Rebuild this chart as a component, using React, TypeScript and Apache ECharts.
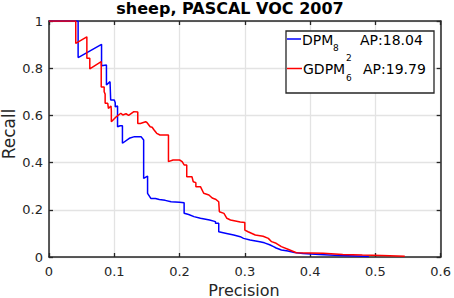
import React, { useEffect, useRef } from "react";
import * as echarts from "echarts";

const titleText = "sheep, PASCAL VOC 2007";
const xLabel = "Precision";
const yLabel = "Recall";
const xTicks = [0, 0.1, 0.2, 0.3, 0.4, 0.5, 0.6];
const yTicks = [0, 0.2, 0.4, 0.6, 0.8, 1];

const dpmName = "DPM";
const dpmSub = "8";
const dpmAP = "AP:18.04";
const gdpmName = "GDPM";
const gdpmSup = "2";
const gdpmSub = "6";
const gdpmAP = "AP:19.79";

// [precision, recall]
const dpmCurve: number[][] = [
  [0, 1], [0.0446, 1], [0.0446, 0.845], [0.0805, 0.901], [0.0805, 0.81],
  [0.088, 0.814], [0.088, 0.729], [0.0935, 0.743], [0.0945, 0.665], [0.1, 0.665],
  [0.1015, 0.654], [0.1015, 0.637], [0.105, 0.64], [0.105, 0.552], [0.109, 0.556],
  [0.1125, 0.556], [0.1125, 0.482], [0.123, 0.503], [0.131, 0.51], [0.141, 0.51],
  [0.145, 0.496], [0.145, 0.333], [0.151, 0.343], [0.151, 0.27], [0.156, 0.248],
  [0.163, 0.248], [0.169, 0.244], [0.178, 0.24], [0.187, 0.234], [0.2, 0.232],
  [0.207, 0.23], [0.207, 0.185], [0.214, 0.18], [0.222, 0.171], [0.232, 0.164],
  [0.246, 0.157], [0.255, 0.15], [0.255, 0.143], [0.26, 0.143], [0.26, 0.107],
  [0.272, 0.1], [0.283, 0.093], [0.293, 0.086], [0.298, 0.079], [0.308, 0.072],
  [0.323, 0.065], [0.33, 0.06], [0.338, 0.052], [0.344, 0.044], [0.348, 0.038],
  [0.356, 0.03], [0.366, 0.025], [0.376, 0.019], [0.389, 0.015], [0.414, 0.011],
  [0.445, 0.006], [0.47, 0.004], [0.49, 0.002],
];

const gdpmCurve: number[][] = [
  [0, 1], [0.041, 1], [0.041, 0.905], [0.058, 0.933], [0.058, 0.842],
  [0.0625, 0.842], [0.0625, 0.797], [0.08, 0.828], [0.08, 0.72], [0.0845, 0.72],
  [0.0845, 0.7], [0.086, 0.69], [0.086, 0.651], [0.09, 0.651], [0.091, 0.63],
  [0.095, 0.64], [0.0955, 0.62], [0.0955, 0.573], [0.103, 0.594], [0.11, 0.609],
  [0.113, 0.602], [0.118, 0.607], [0.122, 0.6], [0.13, 0.616], [0.136, 0.614],
  [0.136, 0.566], [0.14, 0.566], [0.148, 0.573], [0.15, 0.57], [0.155, 0.552],
  [0.158, 0.55], [0.161, 0.538], [0.165, 0.524], [0.17, 0.517], [0.183, 0.517],
  [0.183, 0.404], [0.19, 0.411], [0.2, 0.411], [0.204, 0.404], [0.207, 0.39],
  [0.211, 0.39], [0.211, 0.34], [0.219, 0.34], [0.221, 0.319], [0.225, 0.315],
  [0.225, 0.298], [0.232, 0.298], [0.237, 0.27], [0.245, 0.263], [0.25, 0.25],
  [0.255, 0.245], [0.26, 0.234], [0.261, 0.192], [0.268, 0.185], [0.2725, 0.164],
  [0.278, 0.157], [0.293, 0.148], [0.3, 0.146], [0.3, 0.114], [0.305, 0.107],
  [0.316, 0.093], [0.328, 0.088], [0.336, 0.079], [0.341, 0.065], [0.348, 0.058],
  [0.356, 0.044], [0.366, 0.033], [0.379, 0.018], [0.42, 0.016], [0.45, 0.011],
  [0.48, 0.008], [0.51, 0.006], [0.545, 0.003],
];

const FONT = "DejaVu Sans";
const AXIS_COLOR = "#262626";
const GRID_COLOR = "#e3e3e3";

export default function App() {
  const ref = useRef<HTMLDivElement>(null);

  useEffect(() => {
    if (!ref.current) return;
    const chart = echarts.init(ref.current, undefined, { renderer: "svg" });
    const fmt = (v: number) => String(Math.round(v * 10) / 10);
    const axisLine = { show: true, onZero: false, lineStyle: { color: AXIS_COLOR, width: 1.5 } };
    const axisTick = { show: true, inside: true, length: 4, lineStyle: { color: AXIS_COLOR, width: 1.3 } };
    const xMin = xTicks[0], xMax = xTicks[xTicks.length - 1];
    const yMin = yTicks[0], yMax = yTicks[yTicks.length - 1];

    chart.setOption({
      animation: false,
      backgroundColor: "#ffffff",
      grid: { left: 49, right: 10, top: 21, bottom: 41, containLabel: false },
      xAxis: [
        {
          type: "value", min: xMin, max: xMax, interval: 0.1, position: "bottom",
          axisLine, axisTick,
          axisLabel: { color: AXIS_COLOR, fontSize: 13, fontFamily: FONT, margin: 8, formatter: fmt },
          splitLine: { show: true, lineStyle: { color: GRID_COLOR, width: 1.3 } },
        },
        {
          type: "value", min: xMin, max: xMax, interval: 0.1, position: "top",
          axisLine, axisTick, axisLabel: { show: false }, splitLine: { show: false },
        },
      ],
      yAxis: [
        {
          type: "value", min: yMin, max: yMax, interval: 0.2, position: "left",
          axisLine, axisTick,
          axisLabel: { color: AXIS_COLOR, fontSize: 13, fontFamily: FONT, margin: 6, formatter: fmt },
          splitLine: { show: true, lineStyle: { color: GRID_COLOR, width: 1.3 } },
        },
        {
          type: "value", min: yMin, max: yMax, interval: 0.2, position: "right",
          axisLine, axisTick, axisLabel: { show: false }, splitLine: { show: false },
        },
      ],
      series: [
        {
          name: "DPM_8", type: "line", data: dpmCurve, showSymbol: false,
          lineStyle: { color: "#0000ff", width: 1.5 }, itemStyle: { color: "#0000ff" },
          xAxisIndex: 0, yAxisIndex: 0,
        },
        {
          name: "GDPM_6^2", type: "line", data: gdpmCurve, showSymbol: false,
          lineStyle: { color: "#ff0000", width: 1.5 }, itemStyle: { color: "#ff0000" },
          xAxisIndex: 0, yAxisIndex: 0,
        },
      ],
      graphic: [
        {
          type: "text", x: 230, y: 8,
          style: { text: titleText, font: `bold 16px '${FONT}'`, fill: "#000", align: "center", verticalAlign: "middle" },
        },
        {
          type: "text", x: 244, y: 290,
          style: { text: xLabel, font: `16px '${FONT}'`, fill: AXIS_COLOR, align: "center", verticalAlign: "middle" },
        },
        {
          type: "text", x: 9, y: 134, rotation: Math.PI / 2,
          style: { text: yLabel, font: `17px '${FONT}'`, fill: AXIS_COLOR, align: "center", verticalAlign: "middle" },
        },
        {
          type: "rect", shape: { x: 286, y: 31, width: 148, height: 62 },
          style: { fill: "#ffffff", stroke: AXIS_COLOR, lineWidth: 1.3 }, z: 100,
        },
        {
          type: "line", shape: { x1: 287, y1: 39, x2: 301, y2: 39 },
          style: { stroke: "#0000ff", lineWidth: 1.5 }, z: 101,
        },
        {
          type: "text", x: 302, y: 40, z: 101,
          style: { text: dpmName, font: `14px '${FONT}'`, fill: "#000", verticalAlign: "middle" },
        },
        {
          type: "text", x: 333, y: 48, z: 101,
          style: { text: dpmSub, font: `9px '${FONT}'`, fill: "#000", verticalAlign: "middle" },
        },
        {
          type: "text", x: 360, y: 40, z: 101,
          style: { text: dpmAP, font: `14px '${FONT}'`, fill: "#000", verticalAlign: "middle" },
        },
        {
          type: "line", shape: { x1: 287, y1: 68.5, x2: 302, y2: 68.5 },
          style: { stroke: "#ff0000", lineWidth: 1.5 }, z: 101,
        },
        {
          type: "text", x: 303, y: 69, z: 101,
          style: { text: gdpmName, font: `14px '${FONT}'`, fill: "#000", verticalAlign: "middle" },
        },
        {
          type: "text", x: 346, y: 58, z: 101,
          style: { text: gdpmSup, font: `9px '${FONT}'`, fill: "#000", verticalAlign: "middle" },
        },
        {
          type: "text", x: 346, y: 78, z: 101,
          style: { text: gdpmSub, font: `9px '${FONT}'`, fill: "#000", verticalAlign: "middle" },
        },
        {
          type: "text", x: 363, y: 69, z: 101,
          style: { text: gdpmAP, font: `14px '${FONT}'`, fill: "#000", verticalAlign: "middle" },
        },
      ],
    });
    return () => chart.dispose();
  }, []);

  return (
    <div
      ref={ref}
      style={{ position: "fixed", left: 0, top: 0, width: 454, height: 298, background: "#fff" }}
    />
  );
}
